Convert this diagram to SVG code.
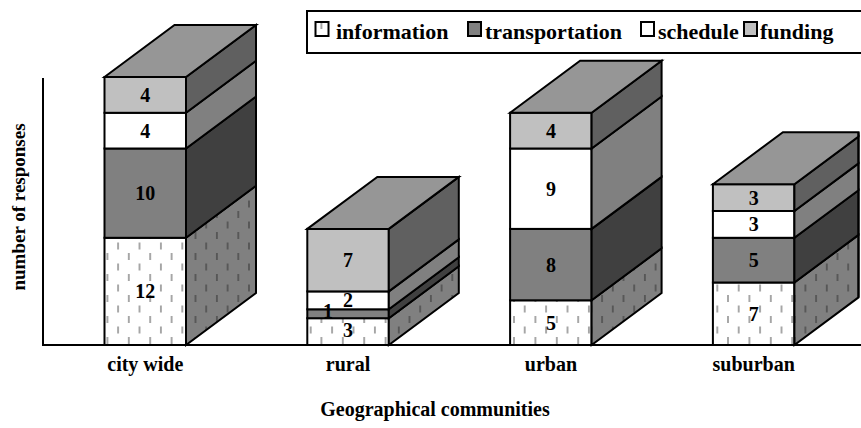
<svg xmlns="http://www.w3.org/2000/svg" width="861" height="428" viewBox="0 0 861 428">
<style>
  .e { stroke: #000; stroke-width: 2; stroke-linejoin: miter; }
  .fInfo { fill: url(#pFront); }
  .sInfo { fill: url(#pSide); }
  .fTrans { fill: #808080; }
  .sTrans { fill: #404040; }
  .fSched { fill: #ffffff; }
  .sSched { fill: #808080; }
  .fFund { fill: #c0c0c0; }
  .sFund { fill: #606060; }
  .top { fill: #969696; }
  .t { font-family: "Liberation Serif", "Times New Roman", serif; font-weight: bold; fill: #000; }
  .v { font-size: 20px; text-anchor: middle; }
  .cat { font-size: 20px; text-anchor: middle; }
  .leg { font-size: 22px; }
  .ax { stroke: #000; stroke-width: 2; fill: none; }
</style>
<defs>
  <pattern id="pFront" patternUnits="userSpaceOnUse" width="21.4" height="21" x="104.5" y="0">
    <rect width="21.4" height="21" fill="#ffffff"/>
    <rect x="2" y="1" width="1.8" height="7" fill="#a0a0a0"/>
    <rect x="12.7" y="11.5" width="1.8" height="7" fill="#a0a0a0"/>
  </pattern>
  <pattern id="pSide" patternUnits="userSpaceOnUse" width="21.4" height="21" x="0" y="0">
    <rect width="21.4" height="21" fill="#808080"/>
    <rect x="2" y="1" width="1.8" height="7" fill="#555555"/>
    <rect x="12.7" y="11.5" width="1.8" height="7" fill="#555555"/>
  </pattern>
</defs>
<rect width="861" height="428" fill="#ffffff"/>

<g id="axes">
  <line class="ax" x1="43" y1="78" x2="43" y2="345"/>
  <line class="ax" x1="42" y1="345" x2="861" y2="345"/>
</g>

<g id="legend">
  <rect x="307" y="11" width="560" height="42" fill="#ffffff" stroke="#000" stroke-width="2"/>
  <rect x="315.5" y="22" width="13" height="14" class="e fInfo"/>
  <text class="t leg" x="336" y="39">information</text>
  <rect x="468" y="22" width="13" height="14" class="e fTrans"/>
  <text class="t leg" x="485" y="39">transportation</text>
  <rect x="641" y="22" width="13" height="14" class="e fSched"/>
  <text class="t leg" x="658" y="39">schedule</text>
  <rect x="744" y="22" width="13" height="14" class="e fFund"/>
  <text class="t leg" x="760" y="39">funding</text>
</g>

<g id="bar-citywide">
  <rect class="e fInfo" x="104.5" y="237.8" width="81.5" height="107.2"/>
  <polygon class="e sInfo" points="186,345 186,237.8 256,185.8 256,293"/>
  <rect class="e fTrans" x="104.5" y="148.5" width="81.5" height="89.3"/>
  <polygon class="e sTrans" points="186,237.8 186,148.5 256,96.5 256,185.8"/>
  <rect class="e fSched" x="104.5" y="112.8" width="81.5" height="35.7"/>
  <polygon class="e sSched" points="186,148.5 186,112.8 256,60.8 256,96.5"/>
  <rect class="e fFund" x="104.5" y="77" width="81.5" height="35.8"/>
  <polygon class="e sFund" points="186,112.8 186,77 256,25 256,60.8"/>
  <polygon class="e top" points="104.5,77 174.5,25 256,25 186,77"/>
  <text class="t v" x="145.3" y="298.4">12</text>
  <text class="t v" x="145.3" y="200">10</text>
  <text class="t v" x="145.3" y="137.6">4</text>
  <text class="t v" x="145.3" y="101.9">4</text>
</g>

<g id="bar-rural">
  <rect class="e fInfo" x="307.3" y="318.2" width="81.5" height="26.8"/>
  <polygon class="e sInfo" points="388.8,345 388.8,318.2 458.8,266.2 458.8,293"/>
  <rect class="e fTrans" x="307.3" y="309.3" width="81.5" height="8.9"/>
  <polygon class="e sTrans" points="388.8,318.2 388.8,309.3 458.8,257.3 458.8,266.2"/>
  <rect class="e fSched" x="307.3" y="291.4" width="81.5" height="17.9"/>
  <polygon class="e sSched" points="388.8,309.3 388.8,291.4 458.8,239.4 458.8,257.3"/>
  <rect class="e fFund" x="307.3" y="228.9" width="81.5" height="62.5"/>
  <polygon class="e sFund" points="388.8,291.4 388.8,228.9 458.8,176.9 458.8,239.4"/>
  <polygon class="e top" points="307.3,228.9 377.3,176.9 458.8,176.9 388.8,228.9"/>
  <text class="t v" x="348" y="336.5">3</text>
  <text class="t v" x="328" y="318">1</text>
  <text class="t v" x="348" y="307.3">2</text>
  <text class="t v" x="348" y="267">7</text>
</g>

<g id="bar-urban">
  <rect class="e fInfo" x="510.1" y="300.3" width="81.5" height="44.7"/>
  <polygon class="e sInfo" points="591.6,345 591.6,300.3 661.6,248.3 661.6,293"/>
  <rect class="e fTrans" x="510.1" y="228.9" width="81.5" height="71.4"/>
  <polygon class="e sTrans" points="591.6,300.3 591.6,228.9 661.6,176.9 661.6,248.3"/>
  <rect class="e fSched" x="510.1" y="148.5" width="81.5" height="80.4"/>
  <polygon class="e sSched" points="591.6,228.9 591.6,148.5 661.6,96.5 661.6,176.9"/>
  <rect class="e fFund" x="510.1" y="112.8" width="81.5" height="35.7"/>
  <polygon class="e sFund" points="591.6,148.5 591.6,112.8 661.6,60.8 661.6,96.5"/>
  <polygon class="e top" points="510.1,112.8 580.1,60.8 661.6,60.8 591.6,112.8"/>
  <text class="t v" x="550.9" y="329.7">5</text>
  <text class="t v" x="550.9" y="271.6">8</text>
  <text class="t v" x="550.9" y="195.7">9</text>
  <text class="t v" x="550.9" y="137.6">4</text>
</g>

<g id="bar-suburban">
  <rect class="e fInfo" x="712.9" y="282.5" width="81.5" height="62.5"/>
  <polygon class="e sInfo" points="794.4,345 794.4,282.5 858.5,234.9 858.5,297.4"/>
  <rect class="e fTrans" x="712.9" y="237.8" width="81.5" height="44.7"/>
  <polygon class="e sTrans" points="794.4,282.5 794.4,237.8 858.5,190.2 858.5,234.9"/>
  <rect class="e fSched" x="712.9" y="211" width="81.5" height="26.8"/>
  <polygon class="e sSched" points="794.4,237.8 794.4,211 858.5,163.4 858.5,190.2"/>
  <rect class="e fFund" x="712.9" y="184.2" width="81.5" height="26.8"/>
  <polygon class="e sFund" points="794.4,211 794.4,184.2 858.5,136.6 858.5,163.4"/>
  <polygon class="e top" points="712.9,184.2 782.9,132.2 858.5,132.2 858.5,136.6 794.4,184.2"/>
  <line class="ax" x1="858.5" y1="132.2" x2="858.5" y2="297.4"/>
  <text class="t v" x="753.7" y="320.7">7</text>
  <text class="t v" x="753.7" y="267.2">5</text>
  <text class="t v" x="753.7" y="231.4">3</text>
  <text class="t v" x="753.7" y="204.6">3</text>
</g>

<g id="labels">
  <text class="t cat" x="145.3" y="371">city wide</text>
  <text class="t cat" x="348" y="371">rural</text>
  <text class="t cat" x="550.9" y="371">urban</text>
  <text class="t cat" x="753.7" y="371">suburban</text>
  <text class="t cat" x="435" y="416">Geographical communities</text>
  <text class="t" font-size="19" text-anchor="middle" transform="translate(25,207) rotate(-90)">number of responses</text>
</g>
</svg>
